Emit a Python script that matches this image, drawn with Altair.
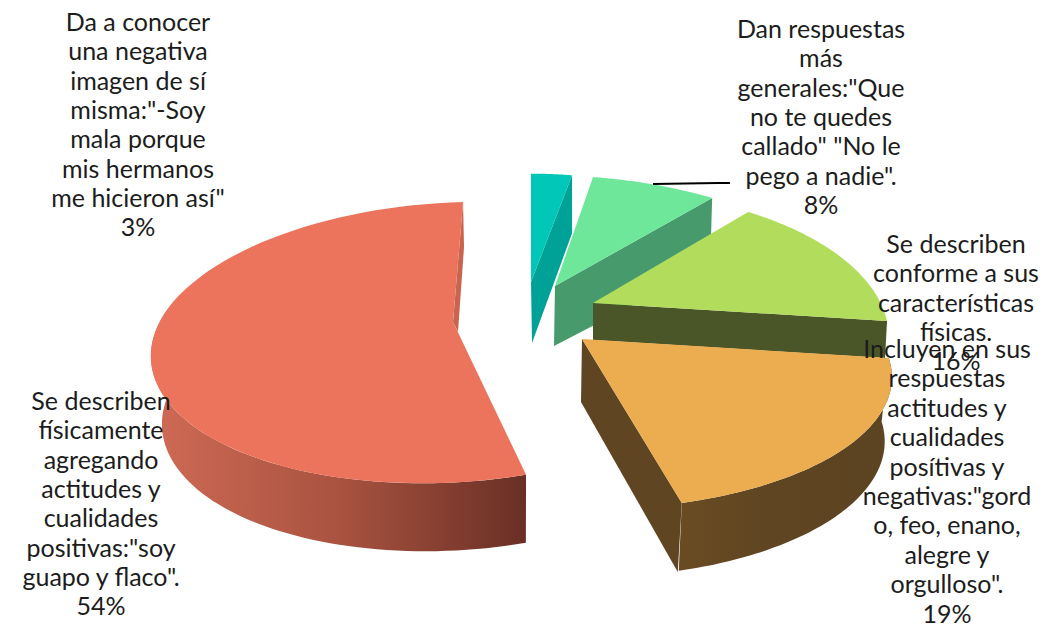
import math
import altair as alt
import pandas as pd

W, H = 1047, 624

# Shares of each answer, clockwise from twelve o'clock
shares = [3, 8, 16, 19, 54]
labels = [
    ["Da a conocer", "una negativa", "imagen de sí", "misma:\"-Soy", "mala porque",
     "mis hermanos", "me hicieron así\"", "3%"],
    ["Dan respuestas", "más", "generales:\"Que", "no te quedes", "callado\" \"No le",
     "pego a nadie\".", "8%"],
    ["Se describen", "conforme a sus", "características", "físicas.", "16%"],
    ["Incluyen en sus", "respuestas", "actitudes y", "cualidades", "posítivas y",
     "negativas:\"gord", "o, feo, enano,", "alegre y", "orgulloso\".", "19%"],
    ["Se describen", "físicamente", "agregando", "actitudes y", "cualidades",
     "positivas:\"soy", "guapo y flaco\".", "54%"],
]
label_x = [138, 821, 956, 947, 101]
label_y = [23, 30, 245, 350, 402]
label_step = [29.3, 29.3, 29.3, 29.4, 29.3]

top_colors = ["#00c7b8", "#6ee79b", "#b2dc5c", "#ebad4f", "#ec735c"]
wall_colors = ["#00a297", "#479a6c", "#4a5628", "#5f4522", "#c9644f"]

# Exploded slice apexes and the foreshortening of each slice's rim
apex = [(531, 282), (555, 286), (593, 303), (582, 339), (453, 322)]
rim_a = [262, 297, 287.6, 299, 297]
rim_d = [130, 133, 139.7, 125.4, 137.5]
rim_c = [0, 10.3, 0, 0, -11.5]
rim_e = [0, 1.4, 0, 2.75, -8]
rim_g = [0.2, 0.2, 0.236, 0.263, 0.146]

# Offsets of the cut face below the rim end and below the apex
end_drop = [(0, 58), (-2, 67), (-2, 37), (-4, 69), (1, 45)]
apex_drop = [(1, 61), (-1, 60), (0, 37), (-1, 63), (5, 10)]

leader_x = [653, 718, 730]
leader_y = [184, 183, 183]


def rim(i, deg, dx=0, dy=0, fx=1, fy=1):
    t = math.radians(deg)
    X, Y = math.sin(t), -math.cos(t)
    w = 1 - rim_g[i] * Y
    u = (rim_a[i] * X + rim_c[i] * Y) / w
    v = (rim_d[i] * Y + rim_e[i] * X) / w
    return [apex[i][0] + dx + fx * u, apex[i][1] + dy + fy * v]


def arc(i, a0, a1, n=70, **kw):
    return [rim(i, a0 + (a1 - a0) * k / n, **kw) for k in range(n + 1)]


def polygon(points):
    ring = [list(p) for p in points]
    ring.append(ring[0])
    return alt.Data(values=[{
        "type": "Feature",
        "properties": {},
        "geometry": {"type": "Polygon", "coordinates": [ring]},
    }])


projection = alt.Projection(type="identity", scale=1, translate=[0, 0])


def shape(points, fill):
    return alt.Chart(polygon(points)).mark_geoshape(
        fill=fill, stroke=None, strokeWidth=0
    ).project(**projection.to_dict())


edges = [0]
for s in shares:
    edges.append(edges[-1] + s * 3.6)

red_wall = alt.Gradient(
    gradient="linear", x1=0, x2=1, y1=0, y2=0,
    stops=[
        alt.GradientStop(color="#cf6a55", offset=0),
        alt.GradientStop(color="#a95340", offset=0.5),
        alt.GradientStop(color="#692f25", offset=1),
    ],
)
orange_wall = alt.Gradient(
    gradient="linear", x1=0, x2=1, y1=0, y2=0,
    stops=[
        alt.GradientStop(color="#6a4c22", offset=0),
        alt.GradientStop(color="#5f4522", offset=0.4),
        alt.GradientStop(color="#5c4321", offset=1),
    ],
)

layers = []
for i in range(5):
    a0, a1 = edges[i], edges[i + 1]
    ax, ay = apex[i]
    # Outer curved wall, visible on the two front slices
    if i == 3:
        layers.append(shape(
            arc(i, a0, a1) + arc(i, a0, a1, dx=-1, dy=63, fx=0.98, fy=1.03)[::-1],
            orange_wall,
        ))
    if i == 4:
        layers.append(shape(
            arc(i, a0, 285) + arc(i, a0, 285, dx=2, dy=68, fx=0.97)[::-1],
            red_wall,
        ))
    # Cut face that turns toward the viewer
    ex, ey = rim(i, a1)
    layers.append(shape(
        [[ax, ay], [ex, ey],
         [ex + end_drop[i][0], ey + end_drop[i][1]],
         [ax + apex_drop[i][0], ay + apex_drop[i][1]]],
        wall_colors[i],
    ))
    # Top face
    layers.append(shape([[ax, ay]] + arc(i, a0, a1), top_colors[i]))

x_scale = alt.Scale(domain=[0, W], range=[0, W])
y_scale = alt.Scale(domain=[0, H], range=[0, H])

leader = alt.Chart(pd.DataFrame({"x": leader_x, "y": leader_y, "k": [0, 1, 2]})).mark_line(
    color="#000000", strokeWidth=2
).encode(
    x=alt.X("x:Q", scale=x_scale, axis=None),
    y=alt.Y("y:Q", scale=y_scale, axis=None),
    order="k:O",
)

rows = []
for i, lines in enumerate(labels):
    for j, line in enumerate(lines):
        rows.append({"x": label_x[i], "y": label_y[i] + j * label_step[i], "t": line})

text = alt.Chart(pd.DataFrame(rows)).mark_text(
    font="Lato", fontSize=25, color="#1c1c1c", align="center", baseline="middle"
).encode(
    x=alt.X("x:Q", scale=x_scale, axis=None),
    y=alt.Y("y:Q", scale=y_scale, axis=None),
    text="t:N",
)

chart = alt.layer(*layers, leader, text).properties(
    width=W, height=H, padding=0, autosize=alt.AutoSizeParams(type="none"),
    background="white",
).configure_view(stroke=None)

chart.save("out.html", embed_options={"renderer": "svg", "actions": False})
